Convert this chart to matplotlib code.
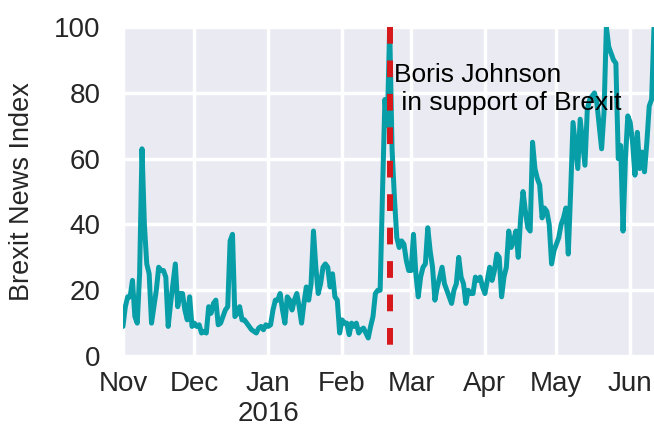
import matplotlib
matplotlib.use("Agg")
import matplotlib.pyplot as plt
import seaborn as sns
import pandas as pd

# daily Brexit news index, 1 Nov 2015 - 11 Jun 2016
nov = [9, 15, 18, 18, 23, 12, 10, 25, 63, 40, 28, 25, 10, 15, 20, 27, 26, 26, 24, 9,
       16, 22, 28, 15, 19, 19, 14, 11, 18, 9]
dec = [10, 9, 9.5, 7, 7.5, 7, 15, 13, 16, 17, 9.5, 10, 12, 14, 15, 35, 37, 12, 13, 15,
       11, 11, 10, 9, 8, 7.5, 7, 8.5, 9, 8, 9.5]
jan = [9, 9.5, 14, 17, 17, 19, 14, 10, 18, 17, 14, 17, 19, 15, 10, 16, 21, 17, 22, 38,
       27, 19, 22, 27, 28, 27, 21, 25, 18, 17, 7]
feb = [11, 10, 10, 6.5, 10, 9, 10, 7, 8, 8.5, 7, 5.5, 9, 12, 19, 20, 20, 50, 78, 70,
       100, 63, 48, 36, 33, 35, 34, 29, 26]
mar = [26, 37, 25, 18, 24, 27, 28, 39, 32, 27, 17, 21, 24, 27, 22, 20, 18, 16, 20, 22,
       30, 24, 22, 16, 20, 19, 19, 24, 23, 24, 21]
apr = [19, 23, 27, 23, 26, 31, 30, 18, 24, 27, 38, 33, 35, 38, 30, 42, 50, 44, 39, 38,
       65, 57, 54, 52, 42, 45, 44, 40, 28, 32]
may = [34, 36, 40, 42, 45, 31, 50, 71, 64, 57, 72, 65, 58, 75, 78, 79, 80, 77, 70, 63,
       74, 100, 94, 92, 90, 89, 60, 64, 38, 60, 73]
jun = [71, 65, 55, 68, 57, 62, 56, 65, 76, 78, 100]

values = nov + dec + jan + feb + mar + apr + may + jun
dates = pd.date_range("2015-11-01", periods=len(values), freq="D")

tick_dates = pd.to_datetime(["2015-11-01", "2015-12-01", "2016-01-01", "2016-02-01",
                             "2016-03-01", "2016-04-01", "2016-05-01", "2016-06-01"])
tick_labels = ["Nov", "Dec", "Jan\n2016", "Feb", "Mar", "Apr", "May", "Jun"]
event_date = pd.Timestamp("2016-02-21")
event_text = "Boris Johnson\n in support of Brexit"

sns.set_style("darkgrid")
plt.rcParams['font.family'] = ['Liberation Sans', 'DejaVu Sans']

fig = plt.figure(figsize=(6.54, 4.30), dpi=100)
ax = fig.add_axes([0.188, 0.172, 0.812, 0.765])

ax.plot(dates, values, color="#089ea8", lw=3.6)
# drawn top to bottom so the first dash sits at the top edge
ax.axvline(event_date, ymin=1, ymax=0, color="#d7191c", lw=4.3,
           linestyle=(0, (2.8, 2.8)))
ax.text(pd.Timestamp("2016-02-23"), 89, event_text, fontsize=19, va="top", ha="left",
        color="black")

ax.set_xlim(dates[0], dates[-1])
ax.set_ylim(0, 100)
ax.set_yticks([0, 20, 40, 60, 80, 100])
ax.set_xticks(tick_dates)
ax.set_xticklabels(tick_labels)
ax.tick_params(labelsize=20, colors=".15", length=0)
ax.tick_params(axis="y", pad=16)
ax.tick_params(axis="x", pad=11)
ax.set_ylabel("Brexit News Index", fontsize=19.5, color=".15", labelpad=14)
for s in ax.spines.values():
    s.set_visible(False)
ax.grid(color="white", lw=2.5)

fig.savefig("out.png", dpi=100)
